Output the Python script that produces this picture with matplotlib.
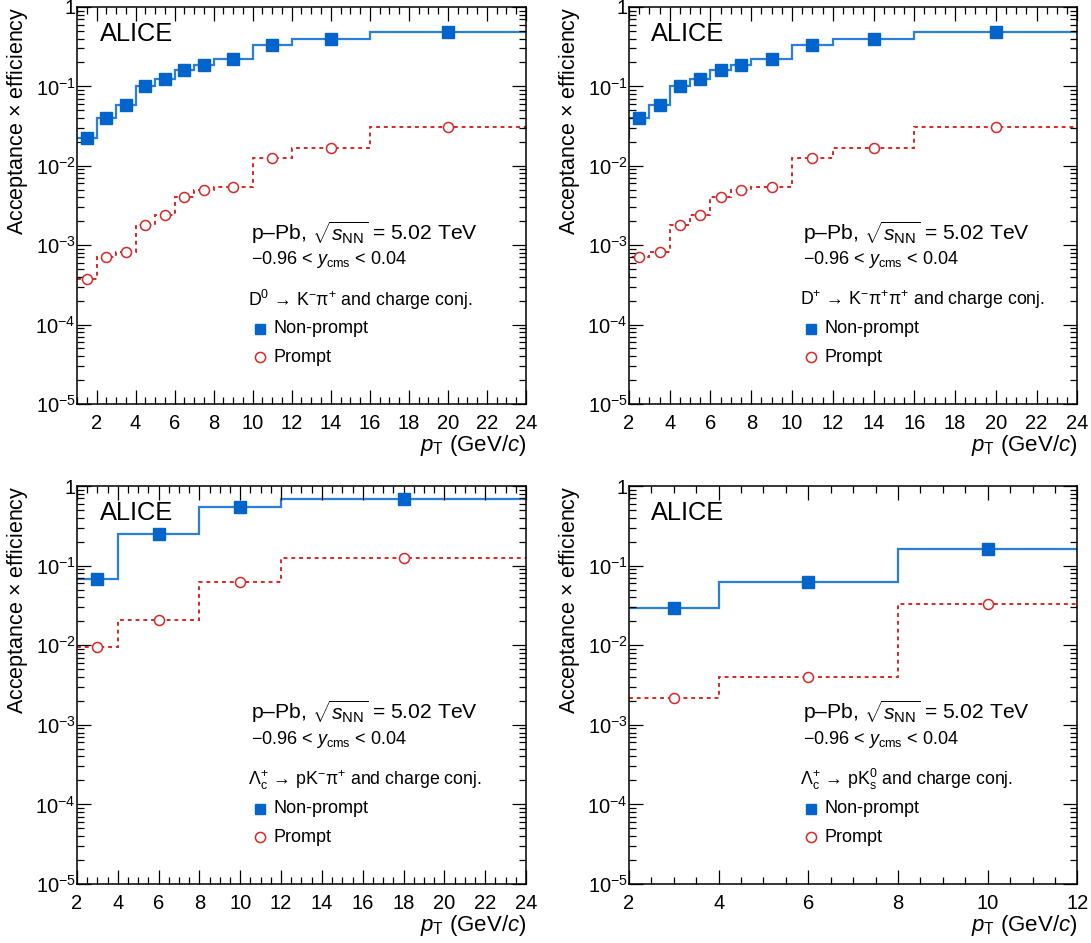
"""
    Acceptance x efficiency of prompt and non-prompt charm hadrons in p-Pb
    collisions, four panels (D0, D+, Lc -> pKpi, Lc -> pK0s).
"""

# ------ Environment Setup ------ #
import numpy as np
import matplotlib
matplotlib.use("Agg")
import matplotlib.pyplot as plt
from matplotlib.ticker import MultipleLocator, LogLocator, FuncFormatter, NullFormatter

plt.rcParams['font.family'] = ['Liberation Sans', 'DejaVu Sans']
plt.rcParams['mathtext.fontset'] = 'custom'
plt.rcParams['mathtext.rm'] = 'Liberation Sans'
plt.rcParams['mathtext.it'] = 'Liberation Sans:italic'
plt.rcParams['mathtext.bf'] = 'Liberation Sans:bold'


# ------ Data ------ #
# D0 -> K- pi+
d0_edges = [1, 2, 3, 4, 5, 6, 7, 8, 10, 12, 16, 24]
d0_nonprompt = [0.0224, 0.040, 0.058, 0.101, 0.124, 0.161, 0.186, 0.221, 0.332, 0.392, 0.484]
d0_prompt = [3.75e-4, 7.0e-4, 8.3e-4, 1.82e-3, 2.4e-3, 4.0e-3, 4.9e-3, 5.45e-3, 0.0124, 0.0166, 0.0308]

# D+ -> K- pi+ pi+ (first bin lies below the plotted range)
dplus_edges = [1, 2, 3, 4, 5, 6, 7, 8, 10, 12, 16, 24]
dplus_nonprompt = [0.0224, 0.040, 0.058, 0.101, 0.124, 0.161, 0.186, 0.221, 0.332, 0.392, 0.484]
dplus_prompt = [3.5e-4, 7.0e-4, 8.3e-4, 1.82e-3, 2.4e-3, 4.0e-3, 4.9e-3, 5.45e-3, 0.0124, 0.0166, 0.0308]

# Lc+ -> p K- pi+
lc_pkpi_edges = [2, 4, 8, 12, 24]
lc_pkpi_nonprompt = [0.067, 0.253, 0.539, 0.68]
lc_pkpi_prompt = [9.4e-3, 0.0208, 0.0625, 0.124]

# Lc+ -> p K0s
lc_pk0s_edges = [2, 4, 8, 12]
lc_pk0s_nonprompt = [0.0292, 0.0614, 0.164]
lc_pk0s_prompt = [2.17e-3, 4.03e-3, 0.0327]

decay_labels = [
    r'D$^{0}$ → K$^{-}$π$^{+}$ and charge conj.',
    r'D$^{+}$ → K$^{-}$π$^{+}$π$^{+}$ and charge conj.',
    r'Λ$_{\rm c}^{+}$ → pK$^{-}$π$^{+}$ and charge conj.',
    r'Λ$_{\rm c}^{+}$ → pK$^{0}_{\rm s}$ and charge conj.',
]
x_ranges = [(1, 24), (2, 24), (2, 24), (2, 12)]

BLUE_LINE = '#2a7fd8'
BLUE_MARK = '#0064cc'
RED = '#d62828'


# ------ Plotting ------ #
def y_format(v, pos):
    if abs(v - 1) < 1e-9:
        return '1'
    return r'$10^{%d}$' % int(round(np.log10(v)))


def draw_panel(ax, edges, nonprompt, prompt, label, xr):
    edges = np.array(edges, dtype=float)
    centers = 0.5 * (edges[1:] + edges[:-1])

    ax.stairs(nonprompt, edges, baseline=None, color=BLUE_LINE, lw=1.6)
    ax.stairs(prompt, edges, baseline=None, color=RED, lw=1.4, linestyle=(0, (2, 2)))
    ax.plot(centers, nonprompt, 's', color=BLUE_MARK, ms=8.3, ls='none')
    ax.plot(centers, prompt, 'o', mfc='white', mec=RED, mew=1.1, ms=7.2, ls='none')

    ax.set_yscale('log')
    ax.set_ylim(1e-5, 1)
    ax.set_xlim(*xr)

    # ROOT-like ticks on all sides
    ax.xaxis.set_major_locator(MultipleLocator(2))
    ax.xaxis.set_minor_locator(MultipleLocator(0.5))
    ax.yaxis.set_major_locator(LogLocator(base=10, numticks=10))
    ax.yaxis.set_minor_locator(LogLocator(base=10, subs=np.arange(2, 10), numticks=20))
    ax.yaxis.set_major_formatter(FuncFormatter(y_format))
    ax.yaxis.set_minor_formatter(NullFormatter())
    ax.tick_params(which='both', direction='in', top=True, right=True, labelsize=14.5)
    ax.tick_params(which='major', length=10, width=0.9)
    ax.tick_params(which='minor', length=5, width=0.9)
    ax.tick_params(axis='y', which='major', pad=1)
    ax.tick_params(axis='x', which='major', pad=7)
    for s in ax.spines.values():
        s.set_linewidth(1.1)

    ax.set_ylabel(r'Acceptance $\times$ efficiency', loc='top', fontsize=15.5)
    ax.yaxis.set_label_coords(-0.105, 1.0)
    ax.set_xlabel(r'$p_{\rm T}$ (GeV/$c$)', loc='right', fontsize=16, labelpad=0)

    # annotations
    ax.text(0.05, 0.933, 'ALICE', transform=ax.transAxes, fontsize=18.3, va='center')
    ax.text(0.388, 0.433, r'p–Pb, $\sqrt{s_{\rm NN}}$ = 5.02 TeV', transform=ax.transAxes,
            fontsize=15.2, va='center')
    ax.text(0.388, 0.363, r'−0.96 < $y_{\rm cms}$ < 0.04', transform=ax.transAxes,
            fontsize=13, va='center')
    ax.text(0.381, 0.262, label, transform=ax.transAxes, fontsize=12.8, va='center')
    ax.plot([0.407], [0.189], 's', color=BLUE_MARK, ms=7.3, transform=ax.transAxes, clip_on=False)
    ax.text(0.437, 0.189, 'Non-prompt', transform=ax.transAxes, fontsize=13, va='center')
    ax.plot([0.407], [0.118], 'o', mfc='white', mec=RED, mew=1.1, ms=7.3,
            transform=ax.transAxes, clip_on=False)
    ax.text(0.437, 0.118, 'Prompt', transform=ax.transAxes, fontsize=13, va='center')


fig = plt.figure(figsize=(10.91, 9.43), dpi=100)
positions = [
    [0.0706, 0.5716, 0.4115, 0.421],
    [0.5765, 0.5716, 0.4110, 0.421],
    [0.0706, 0.0626, 0.4115, 0.422],
    [0.5765, 0.0626, 0.4110, 0.422],
]
panels = [
    (d0_edges, d0_nonprompt, d0_prompt),
    (dplus_edges, dplus_nonprompt, dplus_prompt),
    (lc_pkpi_edges, lc_pkpi_nonprompt, lc_pkpi_prompt),
    (lc_pk0s_edges, lc_pk0s_nonprompt, lc_pk0s_prompt),
]
for pos, (edges, npr, pr), lab, xr in zip(positions, panels, decay_labels, x_ranges):
    ax = fig.add_axes(pos)
    draw_panel(ax, edges, npr, pr, lab, xr)

plt.savefig("out.png", dpi=100)
